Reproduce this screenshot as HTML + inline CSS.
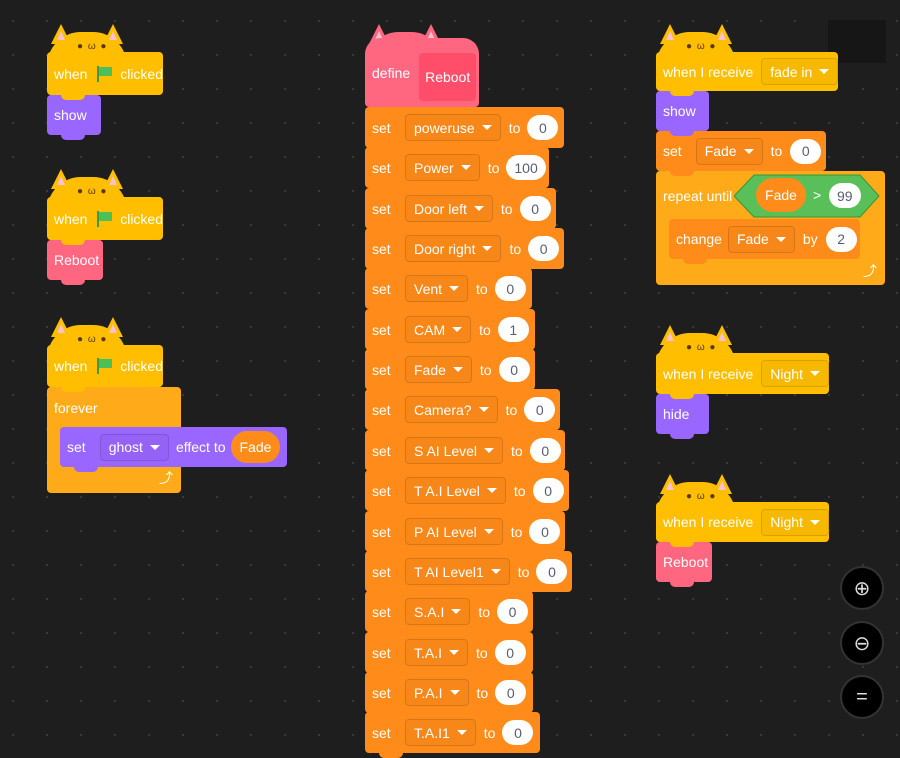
<!DOCTYPE html>
<html><head><meta charset="utf-8">
<style>
*{box-sizing:border-box;margin:0;padding:0}
body{width:900px;height:733px;overflow:hidden;background:#1e1e1e;
background-image:radial-gradient(circle,#3a3a3a 1px,transparent 1.3px);background-size:34px 34px;background-position:-4px 4px;
font-family:"Liberation Sans",sans-serif;font-size:14px;color:#fff;position:relative}
.b{position:absolute;display:flex;align-items:center;padding-left:7px;border-radius:4px;white-space:nowrap}
.b::after{content:"";position:absolute;left:14px;bottom:-5px;width:24px;height:6px;background:inherit;border-radius:0 0 5px 5px;z-index:1}
.nob::after{display:none}
.dd{height:27px;display:flex;align-items:center;padding:0 8px;border-radius:4px;border:1px solid rgba(0,0,0,.13);background:rgba(0,0,0,.03)}
.dd .ar{display:inline-block;margin-left:7px;width:0;height:0;border-left:5px solid transparent;border-right:5px solid transparent;border-top:5px solid #fff}
.v{height:25px;min-width:31px;padding:0 8px;border-radius:13px;background:#fff;color:#575e75;display:flex;align-items:center;justify-content:center}
.or{background:#ff8c1a}.ye{background:#ffbf00}.pu{background:#9966ff}.pk{background:#ff6680}.ct{background:#ffab19}
.head{position:absolute;height:34px;border-radius:40px 40px 0 0}
.ear{position:absolute;width:0;height:0;border-left:10px solid transparent;border-right:10px solid transparent;border-bottom:20px solid}
.ear i{position:absolute;left:-4px;top:7px;border-left:4px solid transparent;border-right:4px solid transparent;border-bottom:9px solid #ffc0d0}
.face{position:absolute;font-size:10px;color:#5a3a00;letter-spacing:1px}
.flag{display:inline-block;width:15px;height:16px;margin:0 10px;position:relative}
.flag:before{content:"";position:absolute;left:0;top:0;width:2px;height:16px;background:#3d9a3d}
.flag:after{content:"";position:absolute;left:2px;top:1px;width:13px;height:9px;background:#4cbf56}
.zb{position:absolute;width:44px;height:44px;border-radius:50%;background:#000;border:2px solid #333;color:#ddd;font-size:20px;display:flex;align-items:center;justify-content:center}
</style></head><body>
<div style="position:absolute;left:828px;top:20px;width:58px;height:43px;background:#161616"></div>
<div id="c"></div>
<div class="zb" style="left:840px;top:566px">⊕</div>
<div class="zb" style="left:840px;top:621px">⊖</div>
<div class="zb" style="left:840px;top:675px">=</div>
<script>
const C=document.getElementById('c');let H='';
function blk(x,y,w,h,cls,inner,extra){H+=`<div class="b ${cls}" style="left:${x}px;top:${y}px;width:${w}px;height:${h}px;${extra||''}">${inner}</div>`;}
function dd(t,ml){return `<span class="dd" style="margin-left:${ml||0}px">${t}<span class="ar"></span></span>`}
function v(t,ml){return `<span class="v" style="margin-left:${ml||0}px">${t}</span>`}
function cat(x,y,col){
 H+=`<div class="head" style="left:${x}px;top:${y-20}px;width:80px;background:${col}"></div>`;
 H+=`<div class="ear" style="left:${x+4}px;top:${y-28}px;border-bottom-color:${col}"><i></i></div>`;
 H+=`<div class="ear" style="left:${x+56}px;top:${y-28}px;border-bottom-color:${col}"><i></i></div>`;
 H+=`<div class="face" style="left:${x+30}px;top:${y-11}px">● ω ●</div>`;
}
const Y='#ffbf00';
cat(47,52,Y);blk(47,52,116,43,'ye',`when<span class="flag"></span>clicked`);
blk(47,95,54,40,'pu','show');
cat(47,197,Y);blk(47,197,116,43,'ye',`when<span class="flag"></span>clicked`);
blk(47,240,56,40,'pk','Reboot');
cat(47,345,Y);blk(47,345,116,42,'ye',`when<span class="flag"></span>clicked`);
blk(47,387,134,106,'ct nob','<span style="position:absolute;top:13px">forever</span><span style="position:absolute;right:8px;bottom:5px;font-size:14px">⤴</span>');
blk(60,427,227,40,'pu',`set${dd('ghost',14)}<span style="margin-left:7px">effect to</span><span class="v" style="margin-left:5px;background:#ff8c1a;color:#fff;height:32px;border-radius:16px;padding:0 9px">Fade</span>`);
cat(365,52,'#ff6680');
blk(365,38,114,69,'pk',`<span>define</span><span style="margin-left:9px;margin-top:8px;background:#ff4d6a;height:48px;width:57px;display:flex;align-items:center;justify-content:center;border-radius:4px">Reboot</span>`,'border-radius:16px 16px 4px 4px');
const rows=[['poweruse','0',564],['Power','100',549],['Door left','0',556],['Door right','0',564],['Vent','0',532],['CAM','1',535],['Fade','0',535],['Camera?','0',560],['S AI Level','0',565],['T A.I Level','0',569],['P AI Level','0',565],['T AI Level1','0',572],['S.A.I','0',533],['T.A.I','0',533],['P.A.I','0',533],['T.A.I1','0',540]];
rows.forEach((r,i)=>{const y=Math.round(107+i*40.35);blk(365,y,r[2]-365,41,'or',`<span style="width:33px">set</span>${dd(r[0])}<span style="margin-left:8px">to</span>${v(r[1],7)}`,`z-index:${20-i}`);});
cat(656,52,Y);blk(656,52,182,39,'ye',`when I receive${dd('fade in',8)}`);
blk(656,91,53,40,'pu','show');
blk(656,131,170,40,'or',`set${dd('Fade',14)}<span style="margin-left:8px">to</span>${v('0',8)}`);
blk(656,171,229,114,'ct nob','<span style="position:absolute;top:17px">repeat until</span><span style="position:absolute;right:8px;bottom:4px">⤴</span>');
H+=`<svg style="position:absolute;left:734px;top:174px" width="146" height="44"><polygon points="0,22 20,1 126,1 145,22 126,43 20,43" fill="#59c059" stroke="#389438"/></svg>`;
H+=`<div class="v" style="position:absolute;left:756px;top:178px;height:34px;width:50px;border-radius:17px;background:#ff8c1a;color:#fff">Fade</div>`;
H+=`<div style="position:absolute;left:813px;top:187px">&gt;</div>`;
H+=`<div class="v" style="position:absolute;left:829px;top:183px">99</div>`;
blk(669,219,191,40,'or',`change${dd('Fade',6)}<span style="margin-left:8px">by</span>${v('2',8)}`);
cat(656,353,Y);blk(656,353,173,41,'ye',`when I receive${dd('Night',8)}`);
blk(656,394,53,40,'pu','hide');
cat(656,502,Y);blk(656,502,173,40,'ye',`when I receive${dd('Night',8)}`);
blk(656,542,56,40,'pk','Reboot');
C.innerHTML=H;
</script>
</body></html>
